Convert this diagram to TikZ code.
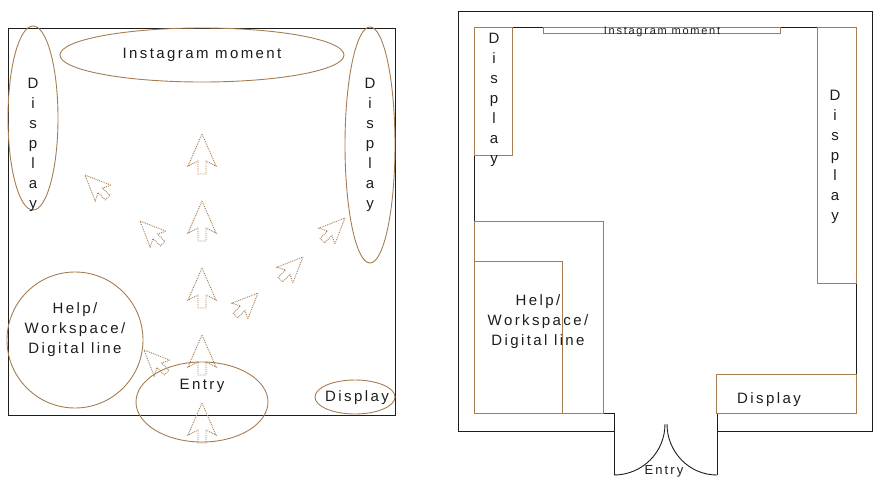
\documentclass[tikz,border=0pt]{standalone}
\usepackage{fontspec}
\usetikzlibrary{shapes.geometric}
\newfontfamily\spaced[LetterSpace=16]{Liberation Sans}
\definecolor{colortan}  {RGB}{166,124,82}
\definecolor{colorwall} {RGB}{29 ,29 ,27 }
\begin{document}
\begin{tikzpicture}[
    x=1pt, y=-1pt,
    font={\spaced\fontsize{15}{20}\selectfont},
    zone/.style={draw=colortan,line width=0.9pt},
    wall/.style={draw=colorwall,line width=0.9pt},
    label/.style={text=colorwall,align=center,inner sep=0pt},
    walkarrow/.pic={\draw[colortan,densely dotted,line width=0.9pt]
        (0,0) -- (14,32) -- (4,27) -- (4,40) -- (-4,40) -- (-4,27) -- (-14,32) -- cycle;},
]
    \useasboundingbox (0,0) rectangle (887,485);

    % concept sketch
    \draw[wall] (8,28) rectangle (395,415);
    \node[zone,ellipse,minimum width=284,minimum height=54] (insta) at (202,55) {};
    \node[label] at (insta) {Instagram moment};
    \draw[zone] (33,118) ellipse [x radius=25, y radius=92];
    \node[label] (dispL) at (33,145) {D\\i\\s\\p\\l\\a\\y};
    \draw[zone] (370,145) ellipse [x radius=25, y radius=118];
    \node[label] (dispR) at (370,145) {D\\i\\s\\p\\l\\a\\y};
    \draw[zone] (75,340) circle [radius=68];
    \node[label] (help) at (75,330) {Help/\\Workspace/\\Digital line};
    \draw[zone] (202,402) ellipse [x radius=66, y radius=40];
    \node[label] (entry) at (202,386) {Entry};
    \draw[zone] (355,397) ellipse [x radius=40, y radius=17];
    \node[label] (dispB) at (357,398) {Display};

    \foreach \ty in {134,201,268,335,403}
        \pic at (202,\ty) {walkarrow};
    \foreach \tx/\ty in {85/175,140/221,144/350}
        \pic[rotate=45,scale=0.8] at (\tx,\ty) {walkarrow};
    \foreach \tx/\ty in {258/293,303/257,345/218}
        \pic[rotate=-45,scale=0.8] at (\tx,\ty) {walkarrow};

    % floor plan
    \draw[wall] (614,431) -- (458,431) -- (458,11) -- (872,11) -- (872,431) -- (717,431);
    \draw[wall] (614,475) -- (614,413) -- (474,413) -- (474,27) -- (856,27)
        -- (856,413) -- (717,413) -- (717,475);
    \draw[wall] (614,475) to[out=0,in=-90] (665,424);
    \draw[wall] (717,475) to[out=180,in=-90] (667,424);
    \node[label,font={\spaced\fontsize{13}{15}\selectfont}] (door) at (664,471) {Entry};

    \draw[zone] (543,27) rectangle (780,33);
    \node[label,font={\spaced\fontsize{11}{12}\selectfont}] (instaP) at (662,32) {Instagram moment};
    \draw[zone] (474,27) rectangle (512,155);
    \node[label] (dispPL) at (494,100) {D\\i\\s\\p\\l\\a\\y};
    \draw[zone] (817,27) rectangle (856,283);
    \node[label] (dispPR) at (835,157) {D\\i\\s\\p\\l\\a\\y};
    \draw[zone] (474,221) rectangle (603,413);
    \draw[zone] (562,413) -- (562,261) -- (474,261);
    \node[label] (helpP) at (538,322) {Help/\\Workspace/\\Digital line};
    \draw[zone] (716,374) rectangle (856,413);
    \node[label] (dispPB) at (769,400) {Display};
\end{tikzpicture}
\end{document}
